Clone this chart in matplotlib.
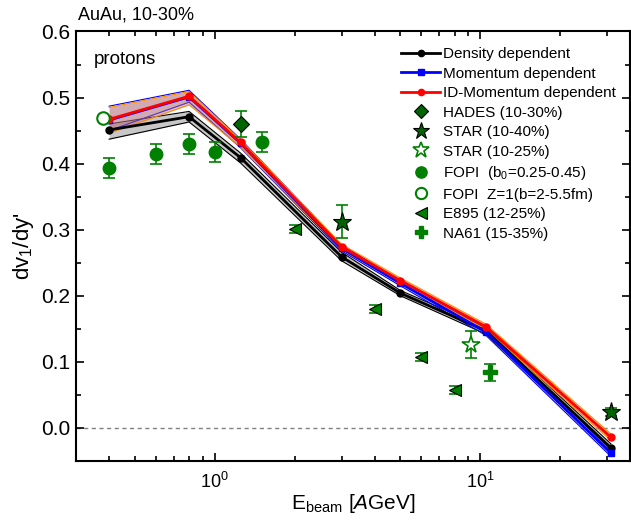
import matplotlib
matplotlib.use("Agg")
import matplotlib.pyplot as plt
from matplotlib.ticker import MultipleLocator, FormatStrFormatter, LogLocator

plt.rcParams['font.family'] = ['Liberation Sans', 'DejaVu Sans']
plt.rcParams['mathtext.fontset'] = 'custom'
plt.rcParams['mathtext.rm'] = 'Liberation Sans'
plt.rcParams['mathtext.it'] = 'Liberation Sans:italic'

# model curves (beam energy in AGeV)
E_model = [0.4, 0.8, 1.25, 3.0, 5.0, 10.5, 31.0]
dens = [0.451, 0.471, 0.409, 0.259, 0.204, 0.147, -0.030]
dens_lo = [0.437, 0.463, 0.401, 0.253, 0.200, 0.142, -0.036]
dens_hi = [0.460, 0.479, 0.416, 0.266, 0.208, 0.152, -0.024]
mom = [0.466, 0.501, 0.431, 0.272, 0.219, 0.145, -0.038]
mom_lo = [0.450, 0.493, 0.424, 0.268, 0.215, 0.140, -0.043]
mom_hi = [0.487, 0.511, 0.437, 0.277, 0.223, 0.150, -0.033]
idmom = [0.467, 0.502, 0.432, 0.274, 0.223, 0.153, -0.014]
idmom_lo = [0.446, 0.489, 0.425, 0.270, 0.219, 0.149, -0.019]
idmom_hi = [0.485, 0.509, 0.436, 0.278, 0.227, 0.157, -0.009]

# data
hades_E, hades_v, hades_err = [1.25], [0.460], [0.020]
star1_E, star1_v, star1_err = [3.0, 31.0], [0.312, 0.024], [0.025, 0.006]
star2_E, star2_v, star2_err = [9.2], [0.126], [0.020]
fopi_E = [0.4, 0.6, 0.8, 1.0, 1.5]
fopi_v = [0.394, 0.415, 0.430, 0.417, 0.433]
fopi_err = [0.015, 0.015, 0.015, 0.015, 0.015]
fopiz_E, fopiz_v = [0.38], [0.469]
e895_E = [2.0, 4.0, 6.0, 8.0]
e895_v = [0.301, 0.180, 0.107, 0.057]
e895_err = [0.006, 0.006, 0.006, 0.006]
na61_E, na61_v, na61_err = [10.9], [0.084], [0.013]

fig = plt.figure(figsize=(6.31, 5.22), dpi=100)
ax = fig.add_axes([0.1204, 0.1169, 0.878, 0.8228])

green = '#008000'
dgreen = '#006400'

ax.axhline(0.0, color='gray', lw=1, ls=(0, (3, 2.5)), zorder=1)

# bands
ax.fill_between(E_model, dens_lo, dens_hi, color='#b0b0b0', alpha=0.7, lw=0, zorder=2)
ax.plot(E_model, dens_lo, color='black', lw=0.8, zorder=2)
ax.plot(E_model, dens_hi, color='black', lw=0.8, zorder=2)
ax.fill_between(E_model, mom_lo, mom_hi, color='#8a6fa0', alpha=0.25, lw=0, zorder=2)
ax.plot(E_model, mom_lo, color='blue', lw=0.8, zorder=2)
ax.plot(E_model, mom_hi, color='blue', lw=0.8, zorder=2)
ax.fill_between(E_model, idmom_lo, idmom_hi, color='#c07070', alpha=0.45, lw=0, zorder=2)
ax.plot(E_model, idmom_lo, color='darkorange', lw=0.8, zorder=2)
ax.plot(E_model, idmom_hi, color='darkorange', lw=0.8, zorder=2)

ax.plot(E_model, dens, color='black', marker='o', ms=5, lw=2, zorder=3,
        label='Density dependent')
ax.plot(E_model, mom, color='blue', marker='s', ms=5, lw=2, zorder=3,
        label='Momentum dependent')
ax.plot(E_model, idmom, color='red', marker='o', ms=5, lw=2, zorder=3,
        label='ID-Momentum dependent')

# error bars (no legend), then markers
ekw = dict(fmt='none', ecolor=green, elinewidth=1.2, capsize=4, capthick=1.2, zorder=4)
ax.errorbar(hades_E, hades_v, yerr=hades_err, **ekw)
ax.errorbar(star1_E, star1_v, yerr=star1_err, **ekw)
ax.errorbar(star2_E, star2_v, yerr=star2_err, **ekw)
ax.errorbar(fopi_E, fopi_v, yerr=fopi_err, **ekw)
ax.errorbar(e895_E, e895_v, yerr=e895_err, **ekw)
ax.errorbar(na61_E, na61_v, yerr=na61_err, **ekw)

ax.plot(hades_E, hades_v, ls='none', marker='D', ms=8, mfc=dgreen, mec='black',
        mew=0.8, zorder=5, label='HADES (10-30%)')
ax.plot(star1_E, star1_v, ls='none', marker='*', ms=14, mfc=dgreen, mec='black',
        mew=0.8, zorder=5, label='STAR (10-40%)')
ax.plot(star2_E, star2_v, ls='none', marker='*', ms=13, mfc='white', mec=green,
        mew=1.2, zorder=5, label='STAR (10-25%)')
ax.plot(fopi_E, fopi_v, ls='none', marker='o', ms=9, mfc=green, mec=green,
        zorder=5, label=r'FOPI  (b$_0$=0.25-0.45)')
ax.plot(fopiz_E, fopiz_v, ls='none', marker='o', ms=9, mfc='white', mec=green, mew=1.5,
        zorder=5, label='FOPI  Z=1(b=2-5.5fm)')
ax.plot(e895_E, e895_v, ls='none', marker='<', ms=9, mfc=green, mec='black',
        mew=0.8, zorder=5, label='E895 (12-25%)')
ax.plot(na61_E, na61_v, ls='none', marker='P', ms=10, mfc=green, mec=green,
        zorder=5, label='NA61 (15-35%)')

ax.set_xscale('log')
ax.set_xlim(0.3, 36.6)
ax.set_ylim(-0.05, 0.6)
ax.yaxis.set_major_locator(MultipleLocator(0.1))
ax.yaxis.set_minor_locator(MultipleLocator(0.05))
ax.yaxis.set_major_formatter(FormatStrFormatter('%.1f'))
ax.xaxis.set_minor_locator(LogLocator(base=10, subs=range(2, 10)))
ax.tick_params(which='both', direction='in', top=True, right=True, width=1.2)
ax.tick_params(which='major', length=6)
ax.tick_params(which='minor', length=3.5)
ax.tick_params(axis='y', labelsize=15, pad=4)
ax.tick_params(axis='x', labelsize=13, pad=8)
for s in ax.spines.values():
    s.set_linewidth(1.5)

ax.set_xlabel(r'E$_{\rm beam}$ [$\it{A}$GeV]', fontsize=15, labelpad=0)
ax.set_ylabel(r"dv$_1$/dy'", fontsize=16, labelpad=4)

fig.text(0.124, 0.972, 'AuAu, 10-30%', fontsize=13, va='center', ha='left')
ax.text(0.033, 0.935, 'protons', transform=ax.transAxes, fontsize=13.5, va='center')

ax.legend(loc='upper left', bbox_to_anchor=(0.624, 0.924), bbox_transform=fig.transFigure,
          frameon=False, fontsize=11, borderpad=0, labelspacing=0.36, handlelength=2.55,
          handletextpad=0.2, numpoints=1, markerscale=0.9)

fig.savefig('out.png', dpi=100)
